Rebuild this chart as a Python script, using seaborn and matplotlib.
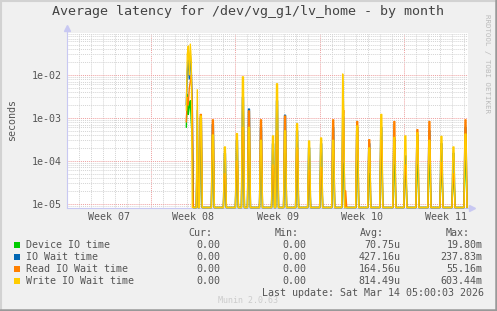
import numpy as np
import pandas as pd
import matplotlib
matplotlib.use("Agg")
import matplotlib.pyplot as plt
import seaborn as sns
from matplotlib.lines import Line2D
from matplotlib.patches import Rectangle
from matplotlib.ticker import FixedLocator, NullFormatter, LogLocator, MultipleLocator
from matplotlib.transforms import blended_transform_factory

# ---------------- data ----------------
title = "Average latency for /dev/vg_g1/lv_home - by month"
series_names = ["Device IO time", "IO Wait time", "Read IO Wait time", "Write IO Wait time"]
series_colors = ["#00CC00", "#0066B3", "#FF8000", "#FFCC00"]
week_labels = ["Week 07", "Week 08", "Week 09", "Week 10", "Week 11"]
week_starts = [0, 7, 14, 21, 28]           # days since Monday of week 07
ytick_values = [1e-5, 1e-4, 1e-3, 1e-2]
ytick_labels = ["1e-05", "1e-04", "1e-03", "1e-02"]
cur_vals = ["0.00", "0.00", "0.00", "0.00"]
min_vals = ["0.00", "0.00", "0.00", "0.00"]
avg_vals = ["70.75u", "427.16u", "164.56u", "814.49u"]
max_vals = ["19.80m", "237.83m", "55.16m", "603.44m"]
last_update = "Last update: Sat Mar 14 05:00:03 2026"
version = "Munin 2.0.63"
watermark = "RRDTOOL / TOBI OETIKER"

n_samples = 400            # 2-hour samples
step_days = 1 / 12
data_start_day = 9.9       # no data before this
x_max_days = 400 / 12

# spikes: day, and value of each series at that sample (seconds)
spike_days = [9.92, 10.00, 10.08, 10.17, 10.25, 10.33, 10.42,
              10.83, 11.08, 12.08, 13.08, 14.08, 14.58, 15.08, 16.08,
              17.08, 17.42, 18.08, 19.08, 20.08, 21.08, 22.08, 22.92,
              23.00, 23.17, 24.08, 25.08, 26.08, 27.17, 28.08, 29.08,
              30.08, 31.08, 32.08, 33.08]
# how many consecutive 2-hour samples each spike lasts
spike_len = [1, 1, 1, 1, 1, 1, 1,
             1, 2, 2, 2, 2, 2, 2, 2,
             2, 2, 2, 2, 2, 2, 2, 1,
             1, 1, 2, 2, 2, 2, 2, 2,
             2, 2, 2, 2]
device_vals = [6e-4, 3.5e-3, 1.2e-3, 1.8e-3, 2.5e-3, 8e-4, 3e-4,
               3e-4, 2e-4, 1e-4, 4e-5, 8e-5, 5e-4, 2e-4, 1e-4,
               7e-5, 4e-4, 1.5e-4, 1e-4, 5e-5, 6e-5, 1e-4, 9e-5,
               6e-5, 0, 1e-4, 5e-5, 1.5e-4, 8e-5, 6e-5, 8e-5,
               8e-5, 6e-5, 4e-5, 1e-4]
iowait_vals = [2e-3, 1.2e-2, 2.2e-2, 8e-3, 3e-2, 1.2e-2, 2e-3,
               1.5e-3, 1e-3, 7e-4, 1.5e-4, 3e-4, 3e-3, 1.6e-3, 6e-4,
               2.5e-4, 2.5e-3, 1.15e-3, 5e-4, 2e-4, 2.5e-4, 6e-4, 1.3e-3,
               1e-3, 1e-5, 6e-4, 2.5e-4, 6e-4, 3.3e-4, 1.3e-4, 4e-4,
               5e-4, 2.5e-4, 1.5e-4, 6e-4]
read_vals = [8e-4, 3e-3, 2e-3, 5e-3, 7e-3, 1e-2, 1.5e-3,
             4e-4, 1.2e-3, 9e-4, 5e-5, 1e-4, 6e-4, 1.45e-3, 9e-4,
             8e-5, 5e-4, 1.1e-3, 2e-4, 6e-5, 7e-5, 9e-4, 5e-4,
             1.5e-3, 2e-5, 8.2e-4, 3.1e-4, 3e-4, 8.2e-4, 8e-5, 5.3e-4,
             8.2e-4, 9e-5, 5e-5, 9e-4]
write_vals = [1.5e-3, 3e-2, 4.7e-2, 1e-2, 5.2e-2, 2e-2, 0,
              4.5e-3, 1.1e-3, 4e-4, 2.1e-4, 4.3e-4, 9e-3, 6e-4, 3e-4,
              3.8e-4, 6.2e-3, 5e-4, 7.3e-4, 2.9e-4, 3.4e-4, 3e-4, 1.05e-2,
              1.5e-3, 0, 6.5e-4, 2e-4, 1.2e-3, 3.5e-4, 3.8e-4, 4.5e-4,
              3e-4, 3.7e-4, 2.1e-4, 4.2e-4]

y_min, y_max = 8.2e-6, 0.0943

# ---------------- build table ----------------
t = np.arange(n_samples) * step_days
idx = np.rint(np.array(spike_days) / step_days).astype(int)
frames = []
for name, vals in zip(series_names, [device_vals, iowait_vals, read_vals, write_vals]):
    v = np.where(t < data_start_day, np.nan, 0.0)
    for i, n, val in zip(idx, spike_len, vals):
        v[i:i + n] = val
    # rrdtool draws zero values at the floor of a log graph
    v_draw = np.maximum(v, y_min)
    frames.append(pd.DataFrame({"t": t, "v": v_draw, "series": name}))
df = pd.concat(frames, ignore_index=True).dropna()

# ---------------- style ----------------
sns.set_theme(style="white")
plt.rcParams["font.family"] = ["DejaVu Sans Mono"]
text_col = "#555555"
fs = 7.2

W, H = 497, 311
fig = plt.figure(figsize=(W / 100, H / 100), dpi=100, facecolor="#F0F0F0")
ax_left, ax_right, ax_top, ax_bottom = 67, 468, 33, 207.5
ax = fig.add_axes([ax_left / W, 1 - ax_bottom / H, (ax_right - ax_left) / W, (ax_bottom - ax_top) / H])
ax.set_facecolor("white")

sns.lineplot(data=df, x="t", y="v", hue="series", hue_order=series_names,
             palette=series_colors, estimator=None, linewidth=1.0,
             legend=False, ax=ax)
for ln in ax.get_lines():
    ln.set_clip_on(False)

ax.set_yscale("log")
ax.set_ylim(y_min, y_max)
ax.set_xlim(0, x_max_days)

ax.yaxis.set_major_locator(FixedLocator(ytick_values))
ax.set_yticklabels(ytick_labels)
ax.yaxis.set_minor_locator(LogLocator(base=10, subs=np.arange(2, 10)))
ax.yaxis.set_minor_formatter(NullFormatter())
ax.xaxis.set_major_locator(FixedLocator(week_starts))
ax.xaxis.set_major_formatter(NullFormatter())
ax.xaxis.set_minor_locator(MultipleLocator(1))

ax.set_axisbelow(True)
ax.grid(which="minor", color="#D4D4D4", linestyle=(0, (1, 1)), linewidth=0.7)
ax.grid(which="major", color="#EEA0A0", linestyle=(0, (1, 1)), linewidth=0.7)

ax.tick_params(which="major", direction="out", length=2.2, width=0.7, color="#E08080",
               labelsize=fs, labelcolor=text_col, pad=1.5)
ax.tick_params(which="minor", direction="out", length=1.4, width=0.6, color="#BBBBBB")
ax.set_xlabel("")
ax.set_ylabel("")

axis_col = "#C8C8F2"
for s in ["top", "right"]:
    ax.spines[s].set_visible(False)
for s in ["left", "bottom"]:
    ax.spines[s].set_color(axis_col)
    ax.spines[s].set_linewidth(0.8)
    ax.spines[s].set_zorder(1)

# axis arrows
ax.plot([0, 0], [1, 1.025], transform=ax.transAxes, color=axis_col, lw=0.8, clip_on=False)
ax.plot([1, 1.008], [0, 0], transform=ax.transAxes, color=axis_col, lw=0.8, clip_on=False)
ax.plot([0], [1.03], marker="^", ms=4, color=axis_col, transform=ax.transAxes, clip_on=False)
ax.plot([1.01], [0], marker=">", ms=4, color=axis_col, transform=ax.transAxes, clip_on=False)

# week labels centred in each week
trans = blended_transform_factory(ax.transData, ax.transAxes)
for ws, lab in zip(week_starts, week_labels):
    ax.text(ws + 3.5, -9.5 / (ax_bottom - ax_top), lab, transform=trans,
            ha="center", va="center", fontsize=fs, color=text_col)


def fx(px):
    return px / W


def fy(py):
    return 1 - py / H


fig.text(fx(248), fy(12), title, ha="center", va="center", fontsize=9.6, color="#444444")
fig.text(fx(12), fy(120), "seconds", rotation=90, ha="center", va="center", fontsize=fs, color=text_col)
fig.text(fx(487.5), fy(63), watermark, rotation=-90, ha="center", va="center", fontsize=5.3, color="#BBBBBB")

# legend
header_y = 233
row_ys = [245, 257, 269.3, 281.3]
fig.text(fx(212.5), fy(header_y), "Cur:", ha="right", va="center", fontsize=fs, color=text_col)
fig.text(fx(298.5), fy(header_y), "Min:", ha="right", va="center", fontsize=fs, color=text_col)
fig.text(fx(383.5), fy(header_y), "Avg:", ha="right", va="center", fontsize=fs, color=text_col)
fig.text(fx(469.5), fy(header_y), "Max:", ha="right", va="center", fontsize=fs, color=text_col)
for name, col, c, mn, av, mx, ry in zip(series_names, series_colors, cur_vals, min_vals,
                                         avg_vals, max_vals, row_ys):
    fig.patches.append(Rectangle((fx(14), fy(ry + 3)), 6 / W, 6 / H, transform=fig.transFigure,
                                 facecolor=col, edgecolor="none"))
    fig.text(fx(26), fy(ry), name, ha="left", va="center", fontsize=fs, color=text_col)
    fig.text(fx(220.5), fy(ry), c, ha="right", va="center", fontsize=fs, color=text_col)
    fig.text(fx(306.5), fy(ry), mn, ha="right", va="center", fontsize=fs, color=text_col)
    fig.text(fx(400.5), fy(ry), av, ha="right", va="center", fontsize=fs, color=text_col)
    fig.text(fx(482.5), fy(ry), mx, ha="right", va="center", fontsize=fs, color=text_col)

fig.text(fx(483.5), fy(292.7), last_update, ha="right", va="center", fontsize=fs, color=text_col)
fig.text(fx(248), fy(300.7), version, ha="center", va="center", fontsize=6, color="#CCCCCC")

# 3D-style frame
fig.add_artist(Line2D([0, 1], [1 - 1 / H, 1 - 1 / H], transform=fig.transFigure, color="#D2D2D2", lw=1.5))
fig.add_artist(Line2D([1 / W, 1 / W], [0, 1], transform=fig.transFigure, color="#D2D2D2", lw=1.5))
fig.add_artist(Line2D([0, 1], [1.2 / H, 1.2 / H], transform=fig.transFigure, color="#999999", lw=1.8))
fig.add_artist(Line2D([1 - 1.2 / W, 1 - 1.2 / W], [0, 1], transform=fig.transFigure, color="#999999", lw=1.8))

fig.savefig("out.png", dpi=100, facecolor=fig.get_facecolor())
